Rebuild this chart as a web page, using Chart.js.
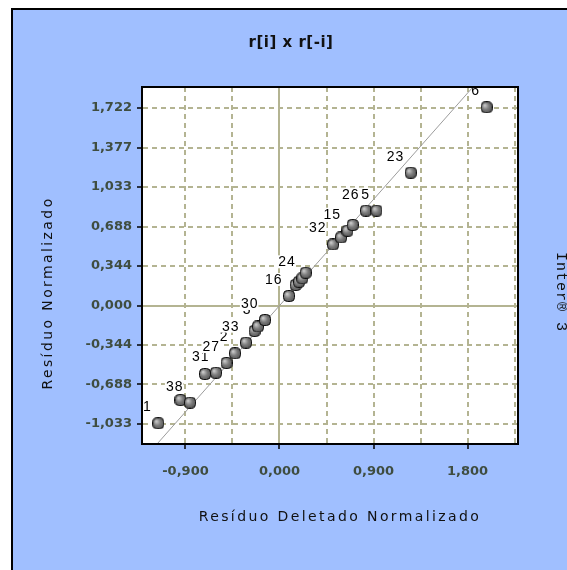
<!DOCTYPE html>
<html>
<head>
<meta charset="utf-8">
<script src="https://cdn.jsdelivr.net/npm/chart.js@4.4.1/dist/chart.umd.min.js"></script>
<style>
  html, body { margin: 0; padding: 0; background: #fff; }
  canvas { display: block; }
</style>
</head>
<body>
<canvas id="chart" width="567" height="570"></canvas>
<script>
// Observations: deleted normalized residual (x) vs normalized residual (y)
const xValues = [-1.160, -0.948, -0.857, -0.713, -0.608, -0.507, -0.426, -0.321, -0.239, -0.206, -0.139,
  0.091, 0.155, 0.187, 0.218, 0.251, 0.512, 0.589, 0.651, 0.701, 0.828, 0.928, 1.256, 1.983]
const yValues = [-1.027, -0.824, -0.847, -0.597, -0.586, -0.501, -0.417, -0.324, -0.222, -0.183, -0.126,
  0.083, 0.179, 0.207, 0.237, 0.286, 0.532, 0.593, 0.652, 0.702, 0.827, 0.827, 1.158, 1.728]
const pointLabels = ["1", "", "38", "", "31", "27", "2", "33", "", "3", "30",
  "16", "", "", "24", "", "32", "", "15", "", "26", "5", "23", "6"]

// Reference line (at the plot edges)
const refLineX = [-1.172, 1.852]
const refLineY = [-1.2075, 1.905]

// Axis ticks
const xTickValues = [-0.9, -0.45, 0, 0.45, 0.9, 1.35, 1.8, 2.25]
const xTickLabels = ["-0,900", "", "0,000", "", "0,900", "", "1,800", ""]
const yTickValues = [-1.033, -0.688, -0.344, 0, 0.344, 0.688, 1.033, 1.377, 1.722]
const yTickLabels = ["-1,033", "-0,688", "-0,344", "0,000", "0,344", "0,688", "1,033", "1,377", "1,722"]

const chartTitle = "r[i] x r[-i]"
const xTitle = "Resíduo Deletado Normalizado"
const yTitle = "Resíduo Normalizado"
const sideText = "Inter® 3"

const gridColor = "#b4b492"
const tickTextColor = "#3f4d40"

// Shaded marker like the original grey balls
function makeBall() {
  const c = document.createElement("canvas")
  c.width = 12
  c.height = 12
  const g = c.getContext("2d")
  const grad = g.createRadialGradient(4, 4, 0.5, 6, 6, 7)
  grad.addColorStop(0, "#c8c8c8")
  grad.addColorStop(0.45, "#7c7c7c")
  grad.addColorStop(1, "#4a4a4a")
  g.beginPath()
  g.roundRect(0.5, 0.5, 11, 11, 4)
  g.fillStyle = grad
  g.fill()
  g.lineWidth = 1
  g.strokeStyle = "#111"
  g.stroke()
  return c
}

const points = xValues.map((x, i) => ({ x: x, y: yValues[i] }))
const refLine = refLineX.map((x, i) => ({ x: x, y: refLineY[i] }))

const panelPlugin = {
  id: "panel",
  beforeDraw(chart) {
    const ctx = chart.ctx
    const a = chart.chartArea
    ctx.save()
    ctx.fillStyle = "#ffffff"
    ctx.fillRect(0, 0, chart.width, chart.height)
    ctx.fillStyle = "#a0bfff"
    ctx.fillRect(11, 8, chart.width - 11, chart.height - 8)
    ctx.fillStyle = "#000"
    ctx.fillRect(11, 8, 2, chart.height - 8)
    ctx.fillRect(11, 8, chart.width - 11, 2)
    ctx.fillStyle = "#ffffff"
    ctx.fillRect(a.left, a.top, a.width, a.height)
    ctx.restore()
  },
}

// Point numbers with white boxes, drawn under the markers
const labelPlugin = {
  id: "pointNumbers",
  beforeDatasetsDraw(chart) {
    const ctx = chart.ctx
    const xs = chart.scales.x
    const ys = chart.scales.y
    ctx.save()
    ctx.beginPath()
    ctx.rect(chart.chartArea.left, chart.chartArea.top, chart.chartArea.width, chart.chartArea.height)
    ctx.clip()
    ctx.font = "14px 'Liberation Sans'"
    ctx.letterSpacing = "1px"
    ctx.textAlign = "right"
    ctx.textBaseline = "alphabetic"
    pointLabels.forEach((lab, i) => {
      if (!lab) return
      const px = xs.getPixelForValue(xValues[i])
      const py = ys.getPixelForValue(yValues[i])
      const right = px - 6.5
      const base = py - 12
      const w = ctx.measureText(lab).width
      ctx.fillStyle = "#ffffff"
      ctx.fillRect(right - w - 1, base - 11, w + 1, 13)
      ctx.fillStyle = "#000"
      ctx.fillText(lab, right, base)
    })
    ctx.restore()
  },
  afterDatasetsDraw(chart) {
    const ctx = chart.ctx
    const a = chart.chartArea
    ctx.save()
    ctx.strokeStyle = "#000"
    ctx.lineWidth = 2
    ctx.strokeRect(a.left, a.top, a.width, a.height)
    ctx.restore()
  },
}

const textPlugin = {
  id: "texts",
  afterDraw(chart) {
    const ctx = chart.ctx
    ctx.save()
    ctx.fillStyle = "#111"
    ctx.textAlign = "center"
    ctx.textBaseline = "middle"

    ctx.font = "bold 15px 'DejaVu Sans'"
    ctx.letterSpacing = "0.5px"
    ctx.fillText(chartTitle, 291, 43)

    ctx.font = "14px 'DejaVu Sans'"
    ctx.letterSpacing = "2.4px"
    ctx.textBaseline = "alphabetic"
    ctx.fillText(xTitle, 340, 521)

    ctx.save()
    ctx.translate(52, 293)
    ctx.rotate(-Math.PI / 2)
    ctx.fillText(yTitle, 0, 0)
    ctx.restore()

    ctx.save()
    ctx.translate(557, 292)
    ctx.rotate(Math.PI / 2)
    ctx.font = "15px 'Liberation Mono'"
    ctx.letterSpacing = "1px"
    ctx.fillText(sideText, 0, 0)
    ctx.restore()

    ctx.restore()
  },
}

const tickFont = { family: "'DejaVu Sans'", size: 13, weight: "bold" }

new Chart(document.getElementById("chart"), {
  type: "scatter",
  data: {
    datasets: [
      {
        type: "line",
        data: refLine,
        borderColor: "#9c9c9c",
        borderWidth: 1,
        pointRadius: 0,
        fill: false,
        order: 2,
      },
      {
        data: points,
        pointStyle: makeBall(),
        pointRadius: 6,
        order: 1,
      },
    ],
  },
  options: {
    responsive: false,
    animation: false,
    devicePixelRatio: 1,
    layout: { padding: { left: 0, top: 87, right: 49, bottom: 0 } },
    plugins: {
      legend: { display: false },
      tooltip: { enabled: false },
      title: { display: false },
    },
    events: [],
    scales: {
      x: {
        type: "linear",
        min: -1.316,
        max: 2.283,
        afterBuildTicks: (scale) => {
          scale.ticks = xTickValues.map((v) => ({ value: v }))
        },
        afterFit: (scale) => {
          scale.height = 126
        },
        ticks: {
          autoSkip: false,
          maxRotation: 0,
          padding: 15,
          color: tickTextColor,
          font: tickFont,
          callback: (v, i) => xTickLabels[i],
        },
        grid: {
          color: gridColor,
          lineWidth: 2,
          tickLength: 5,
          tickWidth: 1.5,
          tickColor: (c) => (c.tick && xTickLabels[c.index] ? "#000" : "rgba(0,0,0,0)"),
        },
        border: {
          color: "#000",
          width: 2,
          dash: (c) => (c.tick && c.tick.value === 0 ? [] : [5, 4]),
        },
      },
      y: {
        type: "linear",
        min: -1.2075,
        max: 1.905,
        afterBuildTicks: (scale) => {
          scale.ticks = yTickValues.map((v) => ({ value: v }))
        },
        afterFit: (scale) => {
          scale.width = 142
        },
        ticks: {
          autoSkip: false,
          padding: 5,
          color: tickTextColor,
          font: tickFont,
          callback: (v, i) => yTickLabels[i],
        },
        grid: {
          color: gridColor,
          lineWidth: 2,
          tickLength: 5,
          tickWidth: 1.5,
          tickColor: "#000",
        },
        border: {
          color: "#000",
          width: 2,
          dash: (c) => (c.tick && c.tick.value === 0 ? [] : [5, 4]),
        },
      },
    },
  },
  plugins: [panelPlugin, labelPlugin, textPlugin],
})
</script>
</body>
</html>
